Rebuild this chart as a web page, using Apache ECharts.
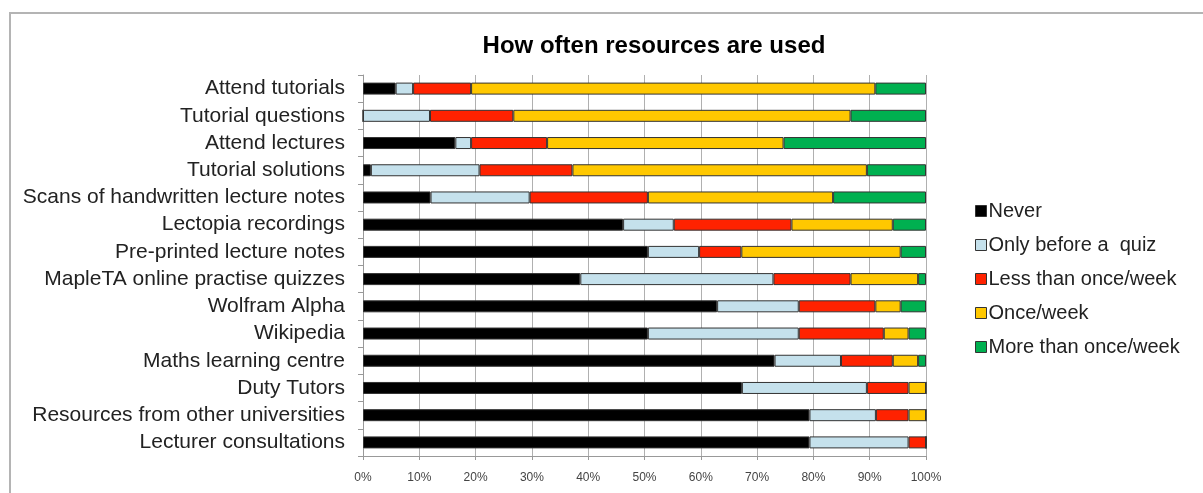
<!DOCTYPE html>
<html>
<head>
<meta charset="utf-8">
<script src="https://cdn.jsdelivr.net/npm/echarts@6/dist/echarts.min.js"></script>
<style>
  html, body { margin: 0; padding: 0; background: #fff; }
  #frame { position: absolute; left: 9px; top: 12px; width: 1192px; height: 490px;
    border-top: 2px solid #b4b4b4; border-left: 2px solid #b4b4b4; border-right: 1px solid #eee; }
  #chart { position: absolute; left: 0; top: 0; width: 1203px; height: 493px; }
</style>
</head>
<body>
<div id="frame"></div>
<div id="chart"></div>
<script>
var categories = [
  "Attend tutorials",
  "Tutorial questions",
  "Attend lectures",
  "Tutorial solutions",
  "Scans of handwritten lecture notes",
  "Lectopia recordings",
  "Pre-printed lecture notes",
  "MapleTA online practise quizzes",
  "Wolfram Alpha",
  "Wikipedia",
  "Maths learning centre",
  "Duty Tutors",
  "Resources from other universities",
  "Lecturer consultations"
];
var seriesNames = ["Never", "Only before a  quiz", "Less than once/week", "Once/week", "More than once/week"];
// percentages, top row first
var never      = [5.8, 0, 16.4, 1.4, 12.0, 46.2, 50.6, 38.6, 62.9, 50.6, 73.1, 67.3, 79.3, 79.3];
var beforeQuiz = [3.1, 11.9, 2.8, 19.3, 17.6, 9.0, 9.1, 34.3, 14.5, 26.8, 11.8, 22.2, 11.8, 17.6];
var lessWeekly = [10.3, 14.8, 13.5, 16.5, 21.0, 20.9, 7.5, 13.7, 13.6, 15.1, 9.2, 7.4, 5.8, 3.1];
var onceWeekly = [71.8, 59.9, 42.0, 52.3, 32.9, 18.0, 28.3, 12.0, 4.5, 4.4, 4.5, 3.1, 3.1, 0];
var moreWeekly = [9.0, 13.4, 25.3, 10.5, 16.5, 5.9, 4.5, 1.4, 4.5, 3.1, 1.4, 0, 0, 0];
var colors = ["#000000", "#c5e1ec", "#ff2200", "#ffc800", "#00b050"];
var xTicks = [0, 10, 20, 30, 40, 50, 60, 70, 80, 90, 100];

var chart = echarts.init(document.getElementById("chart"));
var allData = [never, beforeQuiz, lessWeekly, onceWeekly, moreWeekly];

var series = seriesNames.map(function(name, i) {
  return {
    name: name,
    type: "bar",
    stack: "total",
    barWidth: 12,
    itemStyle: { color: colors[i], borderColor: "#333", borderWidth: 1 },
    data: allData[i]
  };
});

var option = {
  animation: false,
  title: {
    text: "How often resources are used",
    left: 649,
    textAlign: "center",
    top: 29,
    textStyle: { fontFamily: "Liberation Sans Narrow, Liberation Sans, Arial", fontWeight: "bold", fontSize: 24, color: "#000" }
  },
  legend: {
    orient: "vertical",
    left: 970,
    top: 195,
    itemGap: 12,
    itemWidth: 11,
    itemHeight: 11,
    icon: "rect",
    data: seriesNames.map(function(n, i) {
      return { name: n, itemStyle: { borderColor: "#333", borderWidth: 1 } };
    }),
    textStyle: { fontFamily: "Liberation Sans, Arial", fontSize: 20, lineHeight: 22, color: "#222", padding: [0, 0, 0, -3] }
  },
  grid: { left: 363, right: 277, top: 75, height: 381, containLabel: false },
  xAxis: {
    type: "value",
    min: 0,
    max: 100,
    interval: 10,
    axisLine: { show: true, lineStyle: { color: "#999" } },
    axisTick: { show: true, length: 4, lineStyle: { color: "#999" } },
    splitLine: { show: true, lineStyle: { color: "#b0b0b0", width: 1 } },
    axisLabel: {
      margin: 16,
      fontFamily: "Liberation Sans, Arial",
      fontSize: 12,
      color: "#444",
      formatter: function(v) { return xTicks.indexOf(v) >= 0 ? v + "%" : ""; }
    }
  },
  yAxis: {
    type: "category",
    inverse: true,
    data: categories,
    axisLine: { show: true, lineStyle: { color: "#999" } },
    axisTick: { show: true, length: 5, lineStyle: { color: "#999" } },
    axisLabel: {
      interval: 0,
      margin: 18,
      fontFamily: "Liberation Sans, Arial",
      fontSize: 21,
      lineHeight: 22,
      color: "#222"
    }
  },
  series: series
};
chart.setOption(option);
</script>
</body>
</html>
